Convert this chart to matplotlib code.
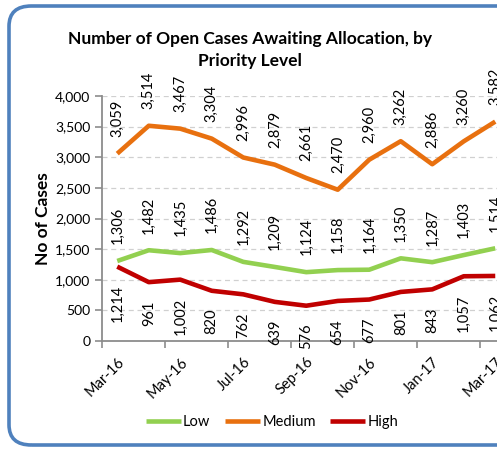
import matplotlib
matplotlib.use("Agg")
import matplotlib.pyplot as plt
from matplotlib.patches import FancyBboxPatch
from matplotlib.ticker import FuncFormatter

months = ["Mar-16", "Apr-16", "May-16", "Jun-16", "Jul-16", "Aug-16", "Sep-16",
          "Oct-16", "Nov-16", "Dec-16", "Jan-17", "Feb-17", "Mar-17"]
low = [1306, 1482, 1435, 1486, 1292, 1209, 1124, 1158, 1164, 1350, 1287, 1403, 1514]
medium = [3059, 3514, 3467, 3304, 2996, 2879, 2661, 2470, 2960, 3262, 2886, 3260, 3582]
high = [1214, 961, 1002, 820, 762, 639, 576, 654, 677, 801, 843, 1057, 1062]
y_ticks = [0, 500, 1000, 1500, 2000, 2500, 3000, 3500, 4000]

FONT = "Lato"
plt.rcParams["font.family"] = [FONT, "DejaVu Sans"]

W, H = 497, 450
fig = plt.figure(figsize=(W / 100, H / 100), dpi=100)
fig.patch.set_facecolor("white")

# rounded border (right side runs off the image)
border = FancyBboxPatch((9 / W, (H - 445) / H), (540 - 9) / W, (445 - 6) / H,
                        boxstyle="round,pad=0,rounding_size=0.045",
                        transform=fig.transFigure, facecolor="none",
                        edgecolor="#4F81BD", linewidth=2.6, zorder=-5)
fig.patches.append(border)

x = list(range(len(months)))
spacing = 31.5
left_px = 101.5
ax = fig.add_axes([left_px / W, (H - 341) / H, 13 * spacing / W, (341 - 96) / H])
ax.set_facecolor("none")
ax.set_xlim(-0.5, 12.5)
ax.set_ylim(0, 4000)

colors = {"Low": "#92D050", "Medium": "#E8700F", "High": "#C00000"}
ax.plot(x, low, color=colors["Low"], lw=3.3, label="Low", solid_capstyle="butt", zorder=3)
ax.plot(x, medium, color=colors["Medium"], lw=3.3, label="Medium", solid_capstyle="butt", zorder=3)
ax.plot(x, high, color=colors["High"], lw=3.3, label="High", solid_capstyle="butt", zorder=3)

lab_kw = dict(rotation=90, fontsize=10.5, color="black", ha="center",
              textcoords="offset points", annotation_clip=False)
for xi, v in zip(x, medium):
    ax.annotate(f"{v:,}", (xi, v), xytext=(0, 12), va="bottom", **lab_kw)
for xi, v in zip(x, low):
    ax.annotate(f"{v:,}", (xi, v), xytext=(0, 12), va="bottom", **lab_kw)
for xi, v in zip(x, high):
    ax.annotate(f"{v:,}", (xi, v), xytext=(0, -13), va="top", **lab_kw)

# axes styling
for s in ["top", "right"]:
    ax.spines[s].set_visible(False)
for s in ["left", "bottom"]:
    ax.spines[s].set_color("#8C8C8C")
    ax.spines[s].set_linewidth(1.3)

ax.set_yticks(y_ticks)
ax.yaxis.set_major_formatter(FuncFormatter(lambda v, p: f"{int(v):,}"))
ax.tick_params(axis="y", length=5, width=1.2, color="#8C8C8C", labelsize=10, pad=3)
for yv in y_ticks[1:]:
    ax.axhline(yv, color="#D0D0D0", lw=0.9, ls=(0, (4, 3)), zorder=1)

ax.set_xticks(x[::2])
ax.set_xticklabels(months[::2], rotation=45, ha="right", rotation_mode="anchor")
ax.set_xticks([i - 0.5 for i in range(0, 13, 2)], minor=True)
ax.tick_params(axis="x", which="major", length=0, labelsize=10.5, pad=10)
ax.tick_params(axis="x", which="minor", length=5, width=1.2, color="#8C8C8C")

ax.set_ylabel("No of Cases", fontsize=12.5, fontweight="bold", labelpad=3)

fig.text(250 / W, 1 - 50 / H, "Number of Open Cases Awaiting Allocation, by\nPriority Level",
         ha="center", va="center", fontsize=12.5, fontweight="bold", linespacing=1.45)

fig.legend(loc="center", bbox_to_anchor=(272 / W, 1 - 422 / H), ncol=3, frameon=False,
           fontsize=10.5, handlelength=2.4, columnspacing=1.0, handletextpad=0.15)

fig.savefig("out.png", dpi=100)
